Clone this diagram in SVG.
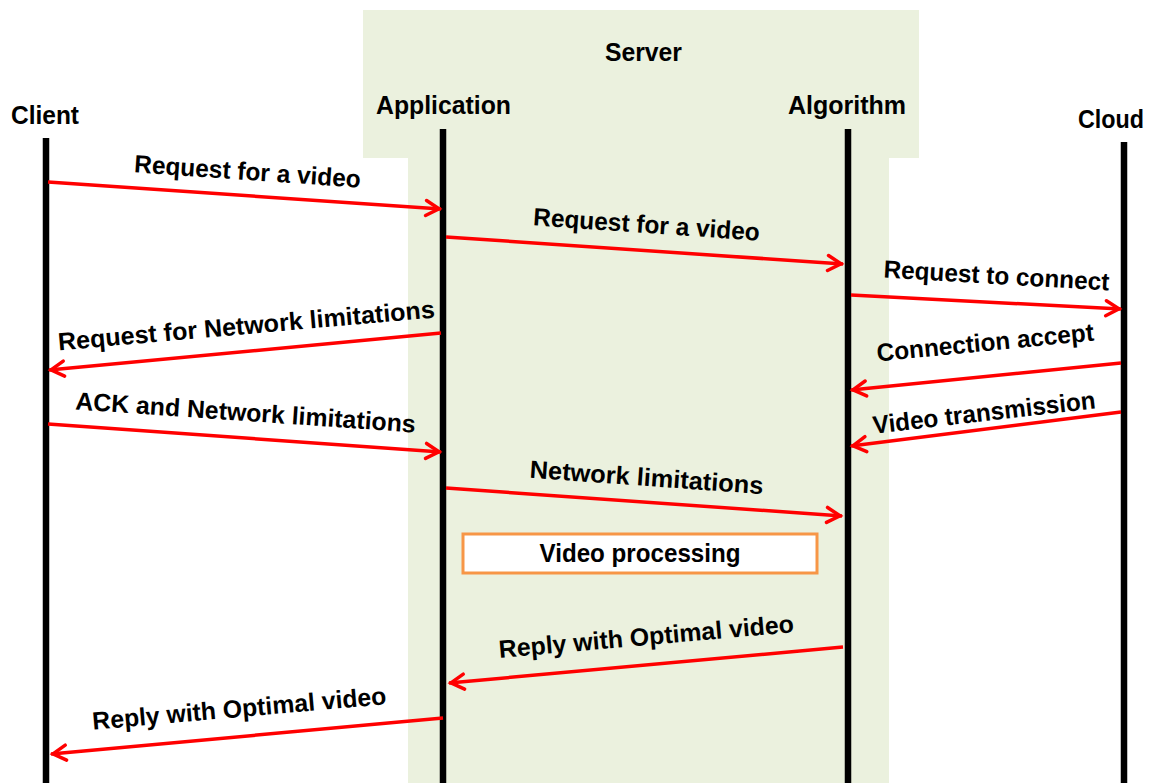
<svg xmlns="http://www.w3.org/2000/svg" width="1152" height="783" viewBox="0 0 1152 783">
<style>
.hdr{font-family:"Liberation Sans",Arial,sans-serif;font-weight:bold;font-size:25px;fill:#000}
.lbl{font-family:"Liberation Sans",Arial,sans-serif;font-weight:bold;font-size:25px;fill:#000;text-anchor:middle}
.life{stroke:#000;stroke-width:6.5;fill:none}
.msg{stroke:#FF0000;stroke-width:3.5;fill:none;marker-end:url(#ah)}
</style>
<defs>
<marker id="ah" viewBox="-18 -10 20 20" refX="0" refY="0" markerWidth="20" markerHeight="20" markerUnits="userSpaceOnUse" orient="auto">
<path d="M-15,-7.5 L-2,0 L-15,7.5" fill="none" stroke="#FF0000" stroke-width="3.5" stroke-linecap="round"/>
</marker>
</defs>
<rect width="1152" height="783" fill="#FFFFFF"/>
<g id="server">
<path d="M363,10 H919 V158 H889 V783 H408 V158 H363 Z" fill="#EBF1DE"/>
<text class="hdr" x="605" y="61" textLength="77" lengthAdjust="spacingAndGlyphs">Server</text>
</g>
<g id="client">
<text class="hdr" x="11" y="124" textLength="68" lengthAdjust="spacingAndGlyphs">Client</text>
<line class="life" x1="46" y1="138" x2="46" y2="783"/>
</g>
<g id="application">
<text class="hdr" x="376" y="114" textLength="135" lengthAdjust="spacingAndGlyphs">Application</text>
<line class="life" x1="443" y1="129" x2="443" y2="783"/>
</g>
<g id="algorithm">
<text class="hdr" x="788" y="114" textLength="118" lengthAdjust="spacingAndGlyphs">Algorithm</text>
<line class="life" x1="848" y1="129" x2="848" y2="783"/>
</g>
<g id="cloud">
<text class="hdr" x="1078" y="128" textLength="66" lengthAdjust="spacingAndGlyphs">Cloud</text>
<line class="life" x1="1124" y1="142" x2="1124" y2="783"/>
</g>
<g id="video-processing">
<rect x="463" y="534" width="354" height="39" fill="#FFFFFF" stroke="#F79646" stroke-width="3"/>
<text class="lbl" x="640" y="562" textLength="201" lengthAdjust="spacingAndGlyphs">Video processing</text>
</g>
<g id="connectors">
<line class="msg" x1="48" y1="182" x2="441" y2="209"/>
<line class="msg" x1="446" y1="237" x2="843" y2="264"/>
<line class="msg" x1="851" y1="295" x2="1121" y2="309"/>
<line class="msg" x1="441" y1="333" x2="49" y2="370"/>
<line class="msg" x1="1121" y1="363" x2="851" y2="390"/>
<line class="msg" x1="48" y1="424" x2="441" y2="452"/>
<line class="msg" x1="1121" y1="412" x2="851" y2="446"/>
<line class="msg" x1="446" y1="488" x2="842" y2="516"/>
<line class="msg" x1="843" y1="647" x2="449" y2="683"/>
<line class="msg" x1="443" y1="718" x2="51" y2="754"/>
</g>
<g id="labels">
<text class="lbl" transform="translate(247,180) rotate(3.9)" textLength="227" lengthAdjust="spacingAndGlyphs">Request for a video</text>
<text class="lbl" transform="translate(646,233) rotate(3.9)" textLength="227" lengthAdjust="spacingAndGlyphs">Request for a video</text>
<text class="lbl" transform="translate(996,284) rotate(3.3)" textLength="226" lengthAdjust="spacingAndGlyphs">Request to connect</text>
<text class="lbl" transform="translate(247,334) rotate(-5)" textLength="378" lengthAdjust="spacingAndGlyphs">Request for Network limitations</text>
<text class="lbl" transform="translate(986,351) rotate(-5.5)" textLength="218" lengthAdjust="spacingAndGlyphs">Connection accept</text>
<text class="lbl" transform="translate(245,421) rotate(3.9)" textLength="341" lengthAdjust="spacingAndGlyphs">ACK and Network limitations</text>
<text class="lbl" transform="translate(985,421) rotate(-6.5)" textLength="224" lengthAdjust="spacingAndGlyphs">Video transmission</text>
<text class="lbl" transform="translate(646,486) rotate(4)" textLength="234" lengthAdjust="spacingAndGlyphs">Network limitations</text>
<text class="lbl" transform="translate(647,645) rotate(-5)" textLength="296" lengthAdjust="spacingAndGlyphs">Reply with Optimal video</text>
<text class="lbl" transform="translate(240,717) rotate(-5)" textLength="295" lengthAdjust="spacingAndGlyphs">Reply with Optimal video</text>
</g>
</svg>
